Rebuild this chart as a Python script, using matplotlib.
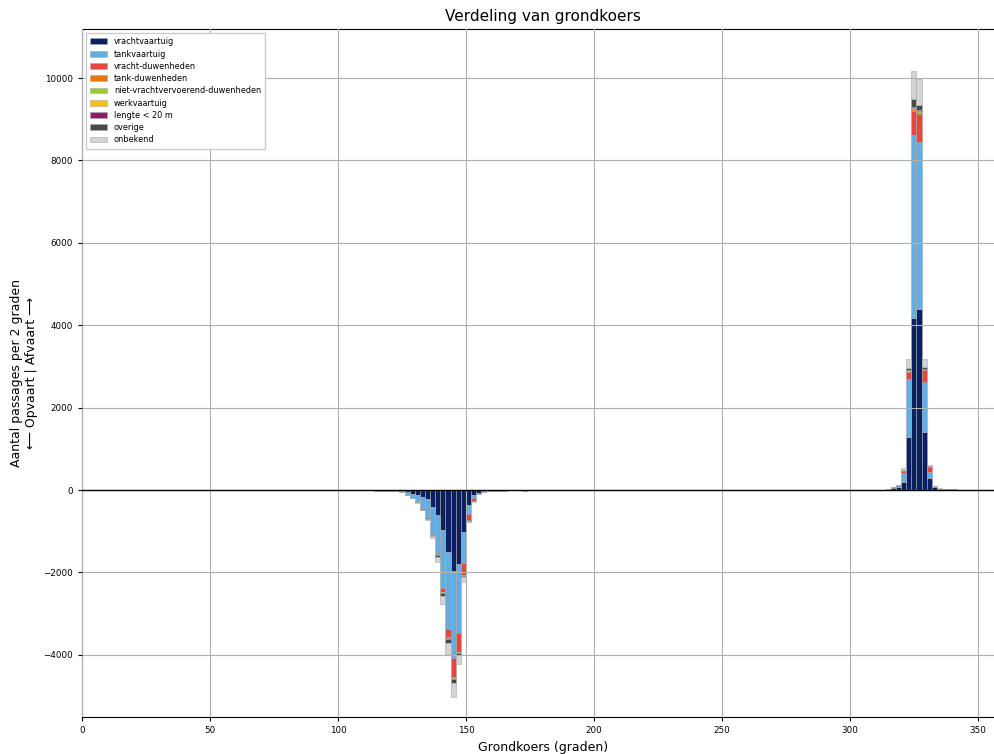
import numpy as np
import matplotlib
matplotlib.use("Agg")
import matplotlib.pyplot as plt

plt.rcParams.update({
    "font.family": ["DejaVu Sans"],
    "axes.linewidth": 0.8,
})

# -------------------------
# categorieën en kleuren
# -------------------------
CATEGORIES = [
    "vrachtvaartuig", "tankvaartuig", "vracht-duwenheden", "tank-duwenheden",
    "niet-vrachtvervoerend-duwenheden", "werkvaartuig", "lengte < 20 m",
    "overige", "onbekend",
]
COLORS = ["#0a2063", "#62ade2", "#e8453c", "#e8760f", "#9ccc2a",
          "#f2c40c", "#8e1a6c", "#4a4a4a", "#d4d4d4"]

# -------------------------
# Opvaart (negatief), bin = linkerrand in graden (2 graden breed)
# -------------------------
op_koers = [112, 114, 116, 118, 120, 122, 124, 126, 128, 130, 132, 134, 136, 138,
            140, 142, 144, 146, 148, 150, 152, 154, 156, 158, 160, 162, 164, 172]
op_vracht = [8, 10, 12, 16, 18, 22, 35, 50, 85, 120, 160, 220, 405, 607,
             970, 1497, 1958, 1796, 1012, 364, 121, 60, 30, 22, 20, 15, 12, 10]
op_tank = [0, 0, 0, 2, 2, 3, 10, 60, 105, 165, 285, 452, 663, 946,
           1417, 1885, 2127, 1682, 768, 226, 81, 25, 10, 5, 0, 0, 0, 0]
op_vracht_duw = [0, 0, 0, 0, 0, 0, 0, 0, 0, 0, 5, 8, 10, 10,
                 81, 178, 446, 446, 283, 138, 58, 5, 0, 0, 0, 0, 0, 0]
op_tank_duw = [0, 0, 0, 0, 0, 0, 0, 0, 0, 0, 0, 5, 15, 5,
               15, 20, 25, 15, 10, 5, 0, 0, 0, 0, 0, 0, 0, 0]
op_niet_vracht = [0, 0, 0, 0, 0, 0, 0, 0, 0, 0, 0, 0, 0, 0,
                  5, 5, 10, 5, 5, 0, 0, 0, 0, 0, 0, 0, 0, 0]
op_werk = [0, 0, 0, 0, 0, 0, 0, 0, 0, 0, 0, 0, 5, 0,
           5, 10, 15, 5, 5, 0, 0, 0, 0, 0, 0, 0, 0, 0]
op_lengte = [0, 0, 0, 0, 0, 0, 0, 0, 0, 0, 0, 0, 0, 15,
             10, 12, 15, 10, 7, 0, 0, 0, 0, 0, 0, 0, 0, 0]
op_overige = [2, 2, 3, 2, 2, 3, 5, 6, 7, 15, 25, 27, 20, 50,
              70, 115, 80, 46, 30, 19, 8, 5, 5, 3, 5, 5, 3, 5]
op_onbekend = [0, 0, 0, 0, 0, 0, 0, 5, 5, 7, 10, 16, 39, 107,
               194, 259, 340, 226, 105, 28, 12, 5, 0, 0, 0, 0, 0, 0]

# -------------------------
# Afvaart (positief)
# -------------------------
af_koers = [304, 306, 308, 310, 312, 314, 316, 318, 320, 322, 324, 326, 328,
            330, 332, 334, 336, 338, 340, 346, 348]
af_vracht = [8, 8, 9, 10, 10, 12, 40, 70, 202, 1294, 4167, 4385, 1416,
             283, 70, 20, 18, 16, 12, 10, 10]
af_tank = [0, 0, 0, 0, 0, 0, 10, 30, 202, 1392, 4450, 4070, 1213,
           162, 20, 5, 0, 0, 0, 0, 0]
af_vracht_duw = [0, 0, 0, 0, 0, 0, 5, 10, 60, 186, 590, 663, 284,
                 105, 5, 0, 0, 0, 0, 0, 0]
af_tank_duw = [0, 0, 0, 0, 0, 0, 0, 0, 10, 20, 40, 50, 15,
               10, 0, 0, 0, 0, 0, 0, 0]
af_niet_vracht = [0, 0, 0, 0, 0, 0, 0, 0, 0, 5, 10, 10, 5,
                  0, 0, 0, 0, 0, 0, 0, 0]
af_werk = [0, 0, 0, 0, 0, 0, 0, 0, 0, 10, 15, 15, 5,
           0, 0, 0, 0, 0, 0, 0, 0]
af_lengte = [0, 0, 0, 0, 0, 0, 0, 0, 0, 10, 20, 20, 10,
             0, 0, 0, 0, 0, 0, 0, 0]
af_overige = [2, 2, 2, 2, 3, 3, 10, 10, 11, 36, 190, 132, 29,
              22, 10, 5, 4, 4, 3, 2, 2]
af_onbekend = [0, 0, 0, 0, 0, 0, 0, 5, 41, 219, 688, 631, 203,
               18, 5, 10, 0, 0, 0, 0, 0]

op_series = [op_vracht, op_tank, op_vracht_duw, op_tank_duw, op_niet_vracht,
             op_werk, op_lengte, op_overige, op_onbekend]
af_series = [af_vracht, af_tank, af_vracht_duw, af_tank_duw, af_niet_vracht,
             af_werk, af_lengte, af_overige, af_onbekend]

x_ticks = [0, 50, 100, 150, 200, 250, 300, 350]
y_ticks = [-4000, -2000, 0, 2000, 4000, 6000, 8000, 10000]

# -------------------------
# figuur
# -------------------------
fig = plt.figure(figsize=(9.94, 7.54), dpi=100)
ax = fig.add_axes([0.0825, 0.049, 0.927, 0.9125])

bottom_af = np.zeros(len(af_koers))
bottom_op = np.zeros(len(op_koers))
for name, color, af_vals, op_vals in zip(CATEGORIES, COLORS, af_series, op_series):
    af_vals = np.array(af_vals, dtype=float)
    op_vals = np.array(op_vals, dtype=float)
    ax.bar(af_koers, af_vals, width=2, align="edge", bottom=bottom_af,
           color=color, edgecolor="#a8a8a8", linewidth=0.4, label=name)
    ax.bar(op_koers, -op_vals, width=2, align="edge", bottom=-bottom_op,
           color=color, edgecolor="#a8a8a8", linewidth=0.4)
    bottom_af += af_vals
    bottom_op += op_vals

ax.set_xlim(0, 360)
ax.set_ylim(-5510, 11190)
ax.set_xticks(x_ticks)
ax.set_yticks(y_ticks)
ax.tick_params(labelsize=6.3, length=3)

ax.grid(True, color="#b0b0b0", linewidth=0.8)
ax.set_axisbelow(False)
ax.axhline(0, color="black", linewidth=1.0, zorder=3)

ax.set_title("Verdeling van grondkoers", fontsize=11)
ax.set_xlabel("Grondkoers (graden)", fontsize=9)
ax.set_ylabel("Aantal passages per 2 graden\n\u27f5 Opvaart | Afvaart \u27f6",
              fontsize=9)

leg = ax.legend(loc="upper left", fontsize=5.9, framealpha=1.0,
                edgecolor="#cccccc", handlelength=2.1, handleheight=0.7,
                handletextpad=0.8, labelspacing=0.4, borderpad=0.5,
                fancybox=False)
leg.set_zorder(5)

fig.savefig("out.png", dpi=100)
